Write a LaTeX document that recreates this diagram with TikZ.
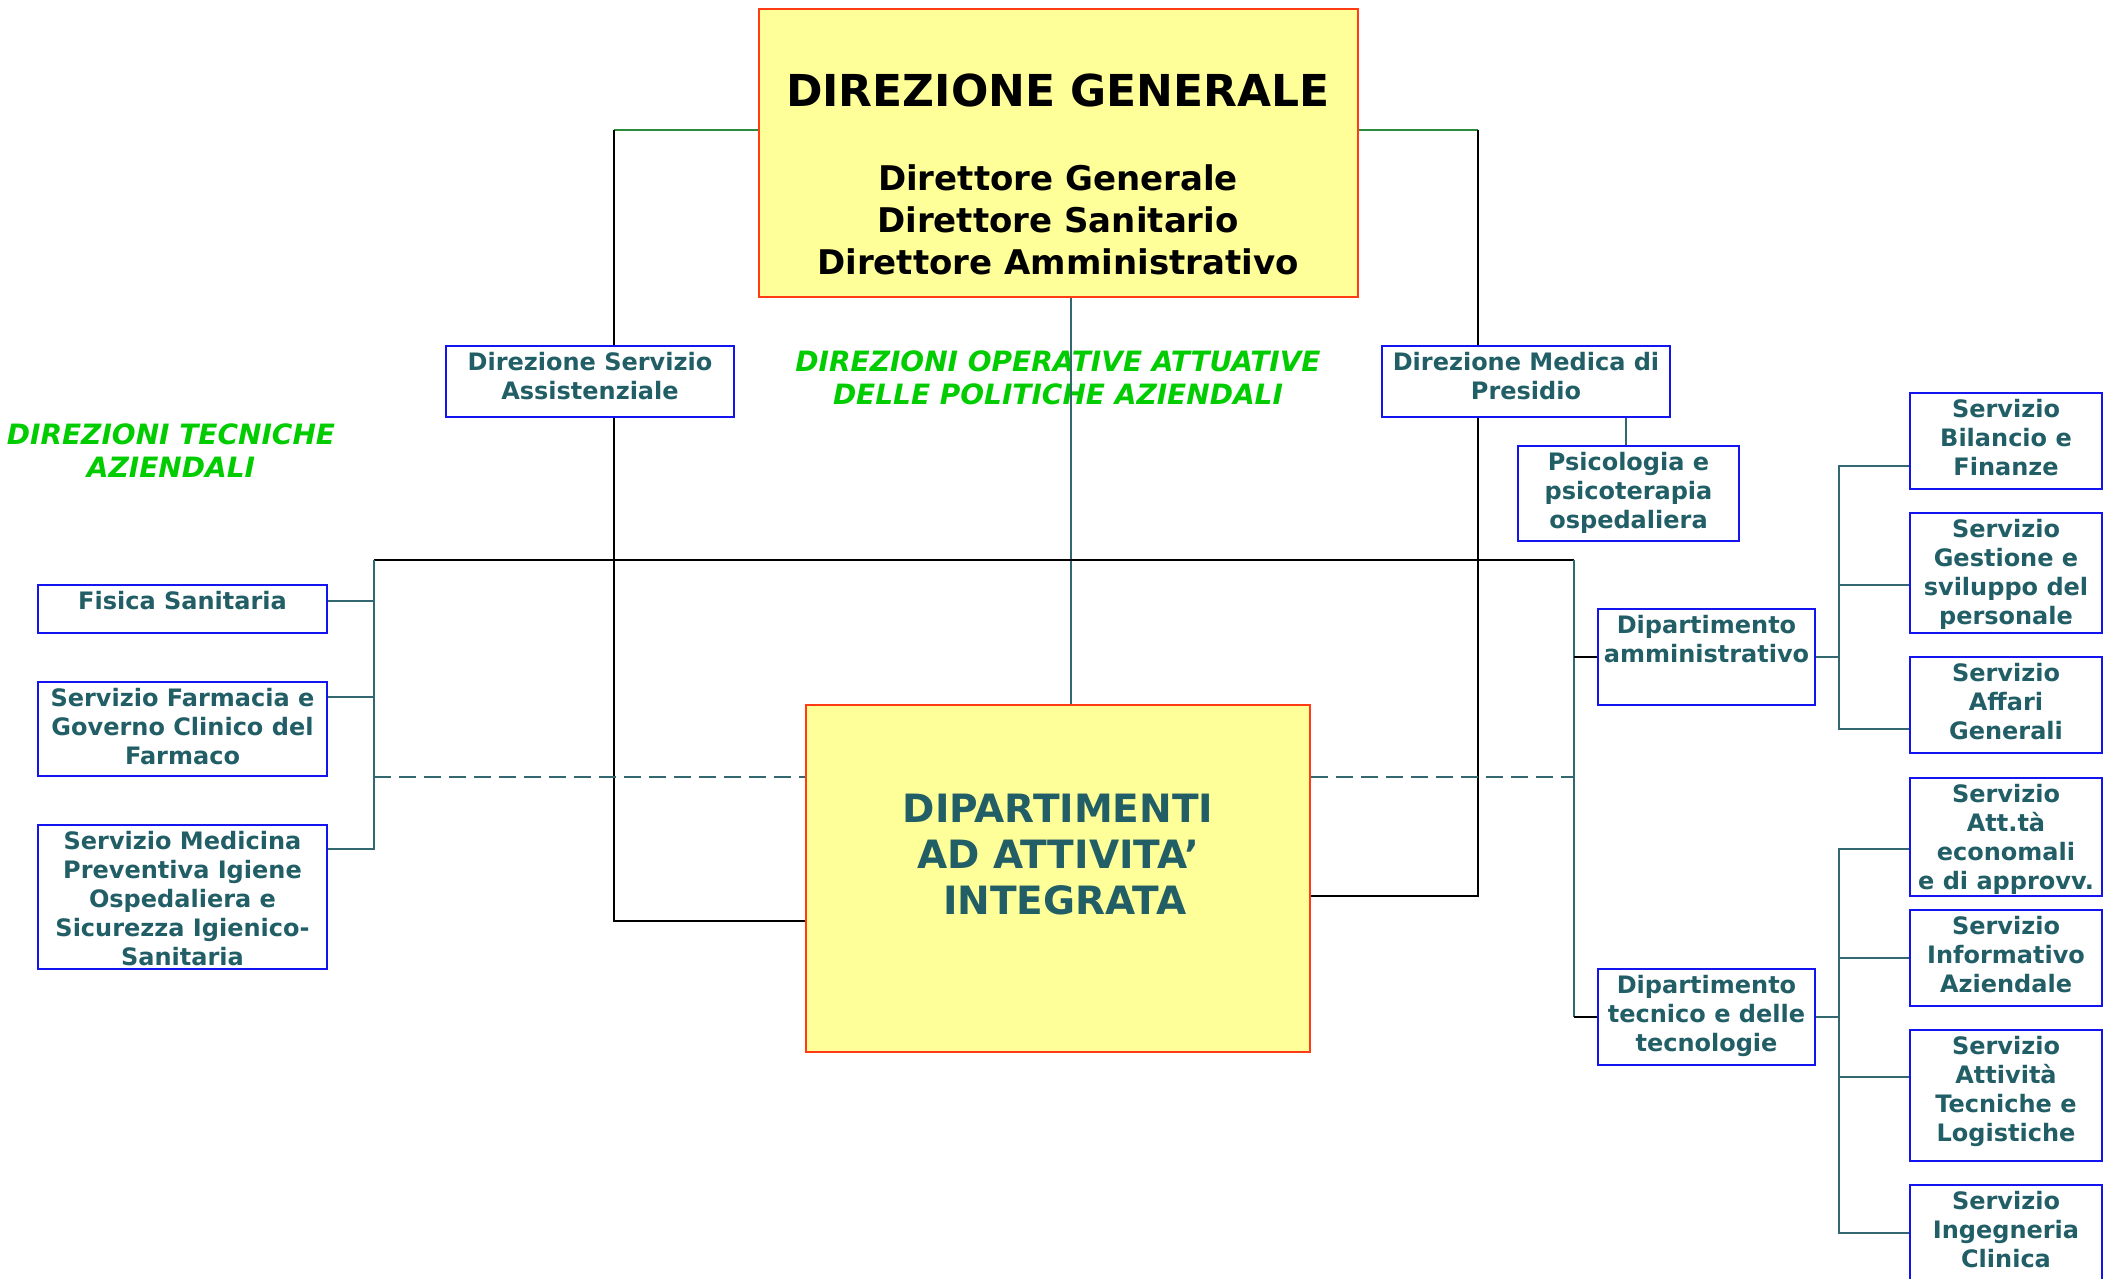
\documentclass[tikz,border=0pt]{standalone}
\usepackage{fontspec}
\setmainfont{DejaVu Sans}
\usetikzlibrary{fit}
\definecolor{tealtx}{RGB}{33,94,102}
\definecolor{tealln}{RGB}{51,104,112}
\definecolor{boxblue}{RGB}{20,20,240}
\definecolor{ylw}{RGB}{255,255,153}
\definecolor{redb}{RGB}{255,60,20}
\definecolor{grn}{RGB}{0,204,0}
\definecolor{dgrn}{RGB}{40,140,60}
\begin{document}
\begin{tikzpicture}[x=0.5pt,y=-0.5pt,
  bluebox/.style={draw=boxblue, line width=1pt, inner sep=0pt},
  yelbox/.style={draw=redb, fill=ylw, line width=1pt, inner sep=0pt},
  txt/.style={font=\bfseries\fontsize{12}{14.5}\selectfont, text=tealtx, align=center, inner sep=0pt, anchor=north},
  tl/.style={draw=tealln, line width=1.2pt},
  bl/.style={draw=black, line width=1pt},
  gl/.style={draw=dgrn, line width=1pt},
  dl/.style={draw=tealln, line width=1.2pt, dash pattern=on 8.5pt off 4pt},
  gtitle/.style={font=\bfseries\itshape\fontsize{14}{16.5}\selectfont, text=grn, align=center, inner sep=0pt}
]
\useasboundingbox (0,0) rectangle (2117,1279);
\fill[white] (0,0) rectangle (2117,1279);

% main boxes
\node[yelbox, fit={(759,9) (1358,297)}] (dg) {};
\node[font=\bfseries\fontsize{22}{26}\selectfont, inner sep=0pt] (dgt) at (1058,90) {DIREZIONE GENERALE};
\node[font=\bfseries\fontsize{17}{21}\selectfont, align=center, inner sep=0pt] (dgs) at (1058,220) {Direttore Generale\\Direttore Sanitario\\Direttore Amministrativo};

\node[yelbox, fit={(806,705) (1310,1052)}] (dai) {};
\node[font=\bfseries\fontsize{19.5}{23}\selectfont, text=tealtx, align=center, inner sep=0pt] (dait) at (1058,855) {DIPARTIMENTI\\AD ATTIVITA’\\\ INTEGRATA};

% green titles
\node[gtitle] (dop) at (1058,378) {DIREZIONI OPERATIVE ATTUATIVE\\DELLE POLITICHE AZIENDALI};
\node[gtitle] (dtecn) at (171,451) {DIREZIONI TECNICHE\\AZIENDALI};

% direzioni
\node[bluebox, fit={(446,346) (734,417)}] (dsa) {};
\node[txt] (dsat) at ([yshift=-3.5pt]dsa.north) {Direzione Servizio\\Assistenziale};
\node[bluebox, fit={(1382,346) (1670,417)}] (dmp) {};
\node[txt] (dmpt) at ([yshift=-3.5pt]dmp.north) {Direzione Medica di\\Presidio};
\node[bluebox, fit={(1518,446) (1739,541)}] (psi) {};
\node[txt] (psit) at ([yshift=-3.5pt]psi.north) {Psicologia e\\psicoterapia\\ospedaliera};

% left boxes
\node[bluebox, fit={(38,585) (327,633)}] (fis) {};
\node[txt] (fist) at ([yshift=-3.5pt]fis.north) {Fisica Sanitaria};
\node[bluebox, fit={(38,682) (327,776)}] (far) {};
\node[txt] (fart) at ([yshift=-3.5pt]far.north) {Servizio Farmacia e\\Governo Clinico del\\Farmaco};
\node[bluebox, fit={(38,825) (327,969)}] (med) {};
\node[txt] (medt) at ([yshift=-3.5pt]med.north) {Servizio Medicina\\Preventiva Igiene\\Ospedaliera e\\Sicurezza Igienico-\\Sanitaria};

% dipartimenti
\node[bluebox, fit={(1598,609) (1815,705)}] (damm) {};
\node[txt] (dammt) at ([yshift=-3.5pt]damm.north) {Dipartimento\\amministrativo};
\node[bluebox, fit={(1598,969) (1815,1065)}] (dtec) {};
\node[txt] (dtect) at ([yshift=-3.5pt]dtec.north) {Dipartimento\\tecnico e delle\\tecnologie};

% servizi
\node[bluebox, fit={(1910,393) (2102,489)}] (bil) {};
\node[txt] (bilt) at ([yshift=-3.5pt]bil.north) {Servizio\\Bilancio e\\Finanze};
\node[bluebox, fit={(1910,513) (2102,633)}] (gest) {};
\node[txt] (gestt) at ([yshift=-3.5pt]gest.north) {Servizio\\Gestione e\\sviluppo del\\personale};
\node[bluebox, fit={(1910,657) (2102,753)}] (aff) {};
\node[txt] (afft) at ([yshift=-3.5pt]aff.north) {Servizio\\Affari\\Generali};
\node[bluebox, fit={(1910,778) (2102,896)}] (att) {};
\node[txt] (attt) at ([yshift=-3.5pt]att.north) {Servizio\\Att.tà\\economali\\e di approvv.};
\node[bluebox, fit={(1910,910) (2102,1006)}] (inf) {};
\node[txt] (inft) at ([yshift=-3.5pt]inf.north) {Servizio\\Informativo\\Aziendale};
\node[bluebox, fit={(1910,1030) (2102,1161)}] (atec) {};
\node[txt] (atect) at ([yshift=-3.5pt]atec.north) {Servizio\\Attività\\Tecniche e\\Logistiche};
\node[bluebox, fit={(1910,1185) (2102,1310)}] (ing) {};
\node[txt] (ingt) at ([yshift=-3.5pt]ing.north) {Servizio\\Ingegneria\\Clinica};

% connectors from direzione generale
\coordinate (dgL) at (614,130);
\coordinate (aL) at (614,921);
\draw[gl] (dg.west |- dgL) -- (dgL);
\draw[bl] (dgL) -- (dgL |- dsa.north);
\draw[bl] (dgL |- dsa.south) -- (aL) -- (aL -| dai.west);
\coordinate (dgR) at (1478,130);
\coordinate (aR) at (1478,896);
\draw[gl] (dg.east |- dgR) -- (dgR);
\draw[bl] (dgR) -- (dgR |- dmp.north);
\draw[bl] (dgR |- dmp.south) -- (aR) -- (aR -| dai.east);
\coordinate (ps) at (1626,446);
\draw[tl] (ps |- dmp.south) -- (ps |- psi.north);
\coordinate (cx) at (1071,400);
\draw[tl] (cx |- dg.south) -- (cx |- dai.north);

% horizontal bus
\coordinate (hL) at (374,560);
\coordinate (hR) at (1574,560);
\draw[bl] (hL) -- (hR);
\coordinate (lb1) at (374,601);
\coordinate (lb2) at (374,697);
\coordinate (lb3) at (374,849);
\draw[tl] (hL) -- (lb3) -- (lb3 -| med.east);
\draw[tl] (lb1) -- (lb1 -| fis.east);
\draw[tl] (lb2) -- (lb2 -| far.east);
\coordinate (rb1) at (1574,657);
\coordinate (rb2) at (1574,1017);
\draw[tl] (hR) -- (rb2);
\draw[bl] (rb1) -- (rb1 -| damm.west);
\draw[bl] (rb2) -- (rb2 -| dtec.west);

% dashed
\coordinate (dL) at (374,777);
\coordinate (dR) at (1574,777);
\draw[dl] (dL) -- (dL -| dai.west);
\draw[dl] (dR -| dai.east) -- (dR);

% right brackets
\coordinate (ab) at (1839,657);
\coordinate (ab1) at (1839,466);
\coordinate (ab2) at (1839,585);
\coordinate (ab3) at (1839,729);
\draw[tl] (damm.east |- ab) -- (ab);
\draw[tl] (ab1 -| bil.west) -- (ab1) -- (ab3) -- (ab3 -| aff.west);
\draw[tl] (ab2) -- (ab2 -| gest.west);
\coordinate (tb) at (1839,1017);
\coordinate (tb1) at (1839,849);
\coordinate (tb2) at (1839,958);
\coordinate (tb3) at (1839,1077);
\coordinate (tb4) at (1839,1233);
\draw[tl] (dtec.east |- tb) -- (tb);
\draw[tl] (tb1 -| att.west) -- (tb1) -- (tb4) -- (tb4 -| ing.west);
\draw[tl] (tb2) -- (tb2 -| inf.west);
\draw[tl] (tb3) -- (tb3 -| atec.west);
\end{tikzpicture}
\end{document}
